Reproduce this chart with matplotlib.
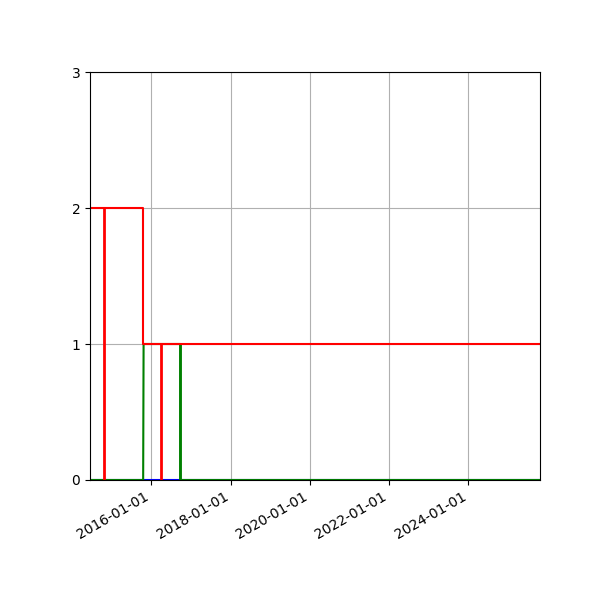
import matplotlib
matplotlib.use("Agg")
import matplotlib.pyplot as plt
import matplotlib.dates as mdates
import numpy as np

# series data (dates)
start = np.datetime64("2014-06-15")
end = np.datetime64("2025-10-23")

blue_dates = [start, end]
blue_values = [0, 0]

green_dates = [start, np.datetime64("2015-10-18"), np.datetime64("2015-10-22"),
               np.datetime64("2016-09-25"), np.datetime64("2016-09-25"), end]
green_values = [0, 0, 1, 1, 0, 0]

red_dates = [start, np.datetime64("2015-10-20"), np.datetime64("2015-10-20"), end]
red_values = [2, 2, 1, 1]

# single events marked as vertical bars
red_event_dates = [np.datetime64("2014-10-22"), np.datetime64("2016-03-31")]
red_event_heights = [2, 1]
green_event_dates = [np.datetime64("2016-09-25")]
green_event_heights = [1]

fig, ax = plt.subplots(figsize=(6, 6), dpi=100)
fig.subplots_adjust(left=0.15, right=0.9, top=0.88, bottom=0.2)

ax.plot(blue_dates, blue_values, color="blue")
ax.plot(green_dates, green_values, color="green")
ax.vlines(green_event_dates, 0, green_event_heights, color="green", linewidth=2)
ax.plot(red_dates, red_values, color="red")
ax.vlines(red_event_dates, 0, red_event_heights, color="red", linewidth=2)

ax.set_xlim(start, end)
ax.set_ylim(0, 3)
ax.set_yticks([0, 1, 2, 3])
ax.xaxis.set_major_locator(mdates.YearLocator(2))
ax.xaxis.set_major_formatter(mdates.DateFormatter("%Y-%m-%d"))
ax.grid(True)
for label in ax.get_xticklabels():
    label.set_rotation(30)
    label.set_ha("right")

fig.savefig("out.png")
